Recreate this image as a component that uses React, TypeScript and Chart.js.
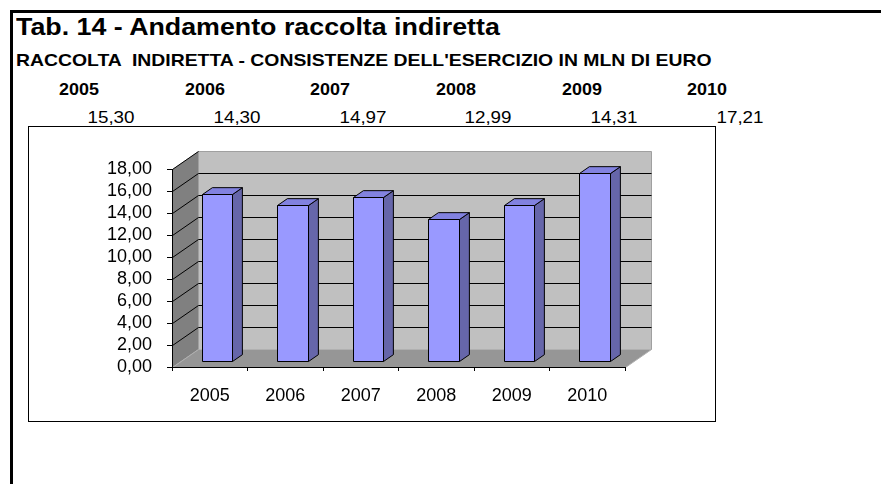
import React, { useEffect, useRef } from 'react';
import { Chart, registerables } from 'chart.js';

Chart.register(...registerables);

// ---------- data ----------
const TITLE = 'Tab. 14 - Andamento raccolta indiretta';
const SUBTITLE = "RACCOLTA  INDIRETTA - CONSISTENZE DELL'ESERCIZIO IN MLN DI EURO";
const categories = ['2005', '2006', '2007', '2008', '2009', '2010'];
const values = [15.3, 14.3, 14.97, 12.99, 14.31, 17.21];
const yMin = 0;
const yMax = 18;
const yStep = 2;

// ---------- style / layout ----------
const FONT = 'Arial, "Liberation Sans", Helvetica, sans-serif';
const DEPTH_X = 26;
const DEPTH_Y = -18;
const BAR_F0 = 0.28;
const BAR_F1 = 0.66;

const fmt = (v: number) => v.toFixed(2).replace('.', ',');

const wallsPlugin = {
  id: 'walls3d',
  beforeDraw(chart: any) {
    const { ctx, chartArea: a, scales } = chart;
    const ys = scales.y;
    const L = Math.round(a.left) + 0.5;
    const R = Math.round(a.right) + 0.5;
    const T = Math.round(a.top) + 0.5;
    const B = Math.round(a.bottom) + 0.5;
    const dx = DEPTH_X;
    const dy = DEPTH_Y;
    ctx.save();
    // back wall
    ctx.fillStyle = '#c0c0c0';
    ctx.strokeStyle = '#a0a0a0';
    ctx.lineWidth = 1;
    ctx.beginPath();
    ctx.rect(L + dx, T + dy, R - L, B - T);
    ctx.fill();
    ctx.stroke();
    // left wall
    ctx.fillStyle = '#808080';
    ctx.beginPath();
    ctx.moveTo(L, B);
    ctx.lineTo(L, T);
    ctx.lineTo(L + dx, T + dy);
    ctx.lineTo(L + dx, B + dy);
    ctx.closePath();
    ctx.fill();
    ctx.stroke();
    // floor
    ctx.fillStyle = '#969696';
    ctx.beginPath();
    ctx.moveTo(L, B);
    ctx.lineTo(R, B);
    ctx.lineTo(R + dx, B + dy);
    ctx.lineTo(L + dx, B + dy);
    ctx.closePath();
    ctx.fill();
    ctx.strokeStyle = '#b0b0b0';
    ctx.stroke();
    // grid lines
    ctx.strokeStyle = '#000';
    ctx.lineWidth = 1;
    for (let v = yMin + yStep; v <= yMax + 1e-9; v += yStep) {
      const py = Math.round(ys.getPixelForValue(v)) + 0.5;
      ctx.beginPath();
      ctx.moveTo(L, py);
      ctx.lineTo(L + dx, py + dy);
      if (v < yMax - 1e-9) ctx.lineTo(R + dx, py + dy);
      ctx.stroke();
    }
    ctx.restore();
  },
};

const bars3dPlugin = {
  id: 'bars3d',
  afterDatasetsDraw(chart: any) {
    const { ctx } = chart;
    const meta = chart.getDatasetMeta(0);
    const ox = DEPTH_X * BAR_F0;
    const oy = DEPTH_Y * BAR_F0;
    const ddx = DEPTH_X * (BAR_F1 - BAR_F0);
    const ddy = DEPTH_Y * (BAR_F1 - BAR_F0);
    ctx.save();
    ctx.lineWidth = 1;
    ctx.strokeStyle = '#000';
    ctx.lineJoin = 'miter';
    meta.data.forEach((el: any) => {
      const { x, y, base, width } = el.getProps(['x', 'y', 'base', 'width'], true);
      const l = Math.round(x - width / 2 + ox) + 0.5;
      const r = Math.round(x + width / 2 + ox) + 0.5;
      const t = Math.round(y + oy) + 0.5;
      const b = Math.round(base + oy) + 0.5;
      // side
      ctx.fillStyle = '#6666aa';
      ctx.beginPath();
      ctx.moveTo(r, t);
      ctx.lineTo(r + ddx, t + ddy);
      ctx.lineTo(r + ddx, b + ddy);
      ctx.lineTo(r, b);
      ctx.closePath();
      ctx.fill();
      ctx.stroke();
      // top
      ctx.fillStyle = '#8282e0';
      ctx.beginPath();
      ctx.moveTo(l, t);
      ctx.lineTo(l + ddx, t + ddy);
      ctx.lineTo(r + ddx, t + ddy);
      ctx.lineTo(r, t);
      ctx.closePath();
      ctx.fill();
      ctx.stroke();
      // front
      ctx.fillStyle = '#9999ff';
      ctx.beginPath();
      ctx.rect(l, t, r - l, b - t);
      ctx.fill();
      ctx.stroke();
    });
    ctx.restore();
  },
};

export default function App() {
  const ref = useRef<HTMLCanvasElement>(null);

  useEffect(() => {
    if (!ref.current) return;
    const chart = new Chart(ref.current, {
      type: 'bar',
      data: {
        labels: categories,
        datasets: [
          {
            data: values,
            backgroundColor: 'rgba(0,0,0,0)',
            borderWidth: 0,
            categoryPercentage: 1,
            barPercentage: 0.4,
          },
        ],
      },
      plugins: [wallsPlugin, bars3dPlugin],
      options: {
        animation: false,
        responsive: false,
        events: [],
        layout: { padding: { left: 0, right: 90, top: 42, bottom: 0 } },
        plugins: {
          legend: { display: false },
          tooltip: { enabled: false },
          title: { display: false },
        },
        scales: {
          x: {
            grid: {
              display: true,
              drawOnChartArea: false,
              drawTicks: true,
              tickLength: 4,
              color: '#000',
              offset: true,
            },
            border: { display: true, color: '#000', width: 1 },
            ticks: {
              color: '#000',
              font: { family: FONT, size: 18 },
              padding: 14,
              maxRotation: 0,
              autoSkip: false,
            },
            afterFit: (s: any) => {
              s.height = 54;
            },
          },
          y: {
            min: yMin,
            max: yMax,
            ticks: {
              stepSize: yStep,
              autoSkip: false,
              color: '#000',
              font: { family: FONT, size: 18 },
              padding: 15,
              callback: (v: any) => fmt(Number(v)),
            },
            grid: {
              display: true,
              drawOnChartArea: false,
              drawTicks: true,
              tickLength: 5,
              color: '#000',
            },
            border: { display: true, color: '#000', width: 1 },
            afterFit: (s: any) => {
              s.width = 143;
            },
          },
        },
      },
    } as any);
    return () => chart.destroy();
  }, []);

  const abs: React.CSSProperties = { position: 'absolute', whiteSpace: 'pre', color: '#000' };

  return (
    <div
      style={{
        position: 'absolute',
        left: 0,
        top: 0,
        width: 881,
        height: 484,
        background: '#fff',
        overflow: 'hidden',
        fontFamily: FONT,
      }}
    >
      <div style={{ position: 'absolute', left: 10, top: 10, width: 3, height: 474, background: '#000' }} />
      <div style={{ position: 'absolute', left: 10, top: 10, width: 871, height: 3, background: '#000' }} />
      <div
        style={{
          ...abs,
          left: 16,
          top: 16,
          fontSize: 23.5,
          lineHeight: '23.5px',
          fontWeight: 'bold',
          transform: 'scaleX(1.14)',
          transformOrigin: '0 0',
        }}
      >
        {TITLE}
      </div>
      <div
        style={{
          ...abs,
          left: 16,
          top: 52.3,
          fontSize: 17,
          lineHeight: '17px',
          fontWeight: 'bold',
          transform: 'scaleX(1.14)',
          transformOrigin: '0 0',
        }}
      >
        {SUBTITLE}
      </div>
      {categories.map((c, i) => (
        <div
          key={'y' + c}
          style={{
            ...abs,
            left: 79.2 + 125.6 * i,
            top: 81.5,
            fontSize: 16,
            lineHeight: '16px',
            fontWeight: 'bold',
            transform: 'translateX(-50%) scaleX(1.12)',
          }}
        >
          {c}
        </div>
      ))}
      {values.map((v, i) => (
        <div
          key={'v' + i}
          style={{
            ...abs,
            left: 110.7 + 125.9 * i,
            top: 109.3,
            fontSize: 16.5,
            lineHeight: '16.5px',
            transform: 'translateX(-50%) scaleX(1.14)',
          }}
        >
          {fmt(v)}
        </div>
      ))}
      <div
        style={{
          position: 'absolute',
          left: 28,
          top: 126,
          width: 688,
          height: 296,
          border: '1px solid #000',
          boxSizing: 'border-box',
          background: '#fff',
        }}
      >
        <canvas ref={ref} width={686} height={294} style={{ display: 'block', width: 686, height: 294 }} />
      </div>
    </div>
  );
}
